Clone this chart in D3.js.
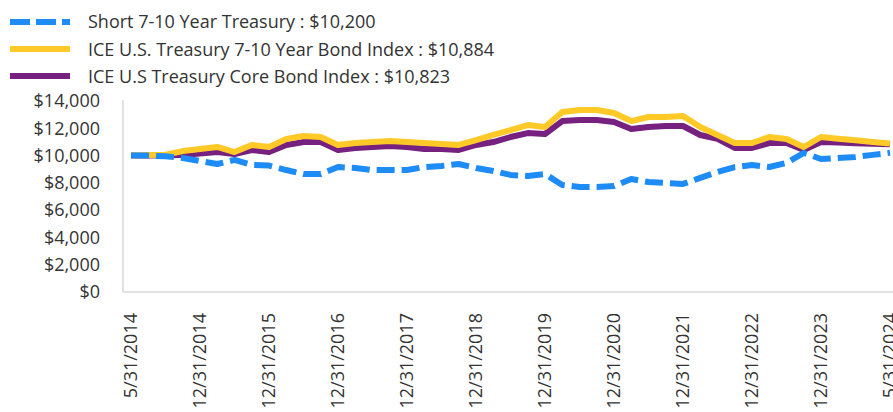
<!DOCTYPE html>
<html>
<head>
<meta charset="utf-8">
<script src="https://cdn.jsdelivr.net/npm/d3@7"></script>
<style>
  body { margin: 0; background: #fff; }
  svg { display: block; font-family: "Open Sans", "Noto Sans", sans-serif; }
</style>
</head>
<body>
<div id="canvas"></div>
<script>
"use strict"

/* drawing size */
let svgWidth = 893;
let svgHeight = 412;

/* plot edges */
let plotLeft = 123
let plotRight = 893
let plotTop = 101
let plotBottom = 292

let fontFamily = "'Open Sans', 'Noto Sans', sans-serif";

/* tick labels on the x axis, one for every 4th point */
let xTickLabels = ["5/31/2014", "12/31/2014", "12/31/2015", "12/31/2016", "12/31/2017",
    "12/31/2018", "12/31/2019", "12/31/2020", "12/31/2021", "12/31/2022",
    "12/31/2023", "5/31/2024"];

let yTicks = [0, 2000, 4000, 6000, 8000, 10000, 12000, 14000];

/* growth of $10,000 */
let shortTreasury = [10000, 10000, 9950, 9820, 9600, 9380, 9680, 9310, 9270, 8940,
    8650, 8650, 9160, 9090, 8940, 8940, 8940, 9160, 9240, 9380,
    9090, 8870, 8580, 8500, 8650, 7840, 7700, 7700, 7770, 8280,
    8060, 7990, 7920, 8360, 8800, 9160, 9310, 9160, 9460, 10190,
    9750, 9820, 9900, 10050, 10200];

let bondIndex = [10000, 10040, 10060, 10330, 10480, 10630, 10260, 10780, 10630, 11210,
    11430, 11360, 10780, 10920, 10990, 11070, 10990, 10920, 10850, 10780,
    11140, 11510, 11870, 12240, 12090, 13190, 13340, 13340, 13120, 12530,
    12830, 12830, 12900, 12090, 11510, 10920, 10920, 11360, 11210, 10630,
    11360, 11240, 11120, 11000, 10884];

let coreIndex = [10000, 10000, 10030, 10050, 10150, 10260, 10110, 10410, 10260, 10780,
    10990, 10990, 10410, 10560, 10630, 10700, 10630, 10480, 10480, 10410,
    10780, 10990, 11360, 11650, 11580, 12530, 12610, 12610, 12460, 11950,
    12100, 12170, 12170, 11510, 11220, 10560, 10560, 10920, 10920, 10410,
    10990, 10950, 10910, 10870, 10823];

let seriesNames = ["Short 7-10 Year Treasury : $10,200",
    "ICE U.S. Treasury 7-10 Year Bond Index : $10,884",
    "ICE U.S Treasury Core Bond Index : $10,823"];

/* series styles, drawn in this order (blue ends on top) */
let series = [
    { name: seriesNames[2], values: coreIndex, color: "#76207f", width: 6, dash: null },
    { name: seriesNames[1], values: bondIndex, color: "#ffca28", width: 6, dash: null },
    { name: seriesNames[0], values: shortTreasury, color: "#1e8cf7", width: 6, dash: "18,7" }
];

let svg = d3.select("#canvas")
    .append("svg")
    .attr("width", svgWidth)
    .attr("height", svgHeight);

/* scales */
let xScale = d3.scaleLinear()
    .domain([0, shortTreasury.length - 1])
    .range([131, 890]);

let yScale = d3.scaleLinear()
    .domain([0, 14000])
    .range([plotBottom, plotTop]);

/* axis lines */
svg.append("line")
    .attr("x1", plotLeft).attr("x2", plotLeft)
    .attr("y1", yScale(14000) - 1).attr("y2", plotBottom)
    .attr("stroke", "#d9d9d9")
    .attr("stroke-width", 1.5);

svg.append("line")
    .attr("x1", plotLeft).attr("x2", plotRight)
    .attr("y1", plotBottom).attr("y2", plotBottom)
    .attr("stroke", "#d9d9d9")
    .attr("stroke-width", 1.5);

/* y axis labels */
let yAxis = svg.append("g")
    .attr("transform", "translate(" + plotLeft + ",0)")
    .call(d3.axisLeft(yScale)
        .tickValues(yTicks)
        .tickSize(0)
        .tickPadding(23)
        .tickFormat(d => "$" + d3.format(",")(d)));
yAxis.select(".domain").remove();
yAxis.selectAll("text")
    .attr("fill", "#333")
    .style("font-size", "18px")
    .style("font-family", fontFamily);

/* x axis labels, rotated */
let xAxis = svg.append("g")
    .attr("transform", "translate(0," + plotBottom + ")")
    .call(d3.axisBottom(xScale)
        .tickValues(d3.range(0, shortTreasury.length, 4))
        .tickSize(0)
        .tickFormat((d, i) => xTickLabels[i]));
xAxis.select(".domain").remove();
xAxis.selectAll("text")
    .attr("fill", "#333")
    .style("font-size", "18px")
    .style("font-family", fontFamily)
    .attr("text-anchor", "end")
    .attr("transform", "rotate(-90)")
    .attr("x", -21)
    .attr("y", 0)
    .attr("dy", "0.32em");

/* lines */
let line = d3.line()
    .x((d, i) => xScale(i))
    .y(d => yScale(d));

series.forEach(function(s) {
    svg.append("path")
        .datum(s.values)
        .attr("d", line)
        .attr("fill", "none")
        .attr("stroke", s.color)
        .attr("stroke-width", s.width)
        .attr("stroke-dasharray", s.dash)
        .attr("stroke-linejoin", "round");
});

/* legend */
let legendItems = [series[2], series[1], series[0]];

legendItems.forEach(function(s, i) {
    svg.append("line")
        .attr("x1", 10).attr("x2", 70)
        .attr("y1", 22 + i * 27).attr("y2", 22 + i * 27)
        .attr("stroke", s.color)
        .attr("stroke-width", 6)
        .attr("stroke-dasharray", s.dash ? "20,6" : null);

    svg.append("text")
        .attr("x", 88)
        .attr("y", 28 + i * 27.5)
        .attr("fill", "#333")
        .style("font-size", "18px")
        .text(s.name);
});
</script>
</body>
</html>
